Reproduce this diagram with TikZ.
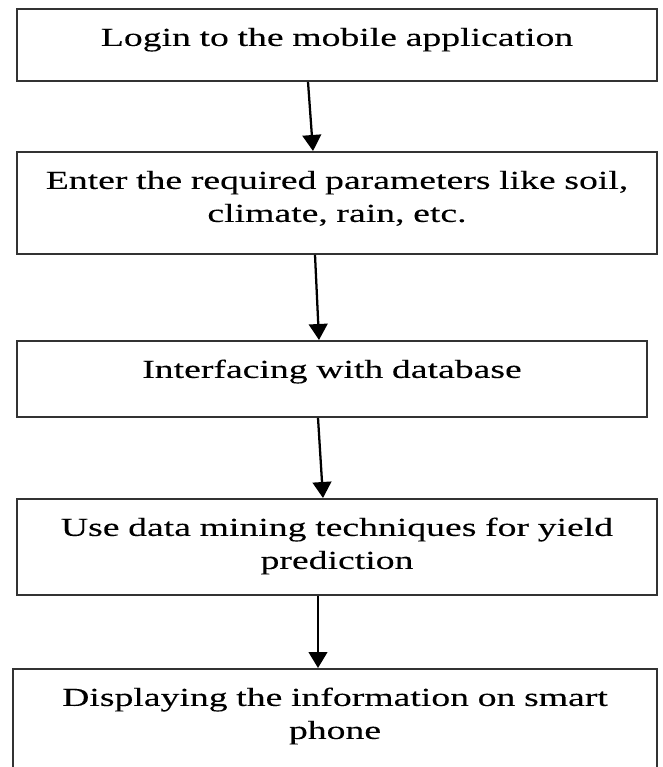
\documentclass[tikz,border=0pt]{standalone}
\usepackage{fontspec}
\setmainfont{Liberation Serif}[FakeStretch=1.45,FakeBold=0.15]
\usetikzlibrary{arrows.meta,calc}

\tikzset{
  flowbox/.style={draw=black!80, line width=1.4pt, anchor=north,
    inner xsep=0pt, inner ysep=0pt, align=center, text height=27.75pt,
    font=\fontsize{19.5}{24.75}\selectfont},
  flowarrow/.style={line width=1.7pt, -{Triangle[length=12pt,width=14pt]}}
}

\begin{document}
\begin{tikzpicture}[x=0.75pt,y=0.75pt,yscale=-1,xscale=1]
\useasboundingbox (0,0) rectangle (663,767);
\clip (0,0) rectangle (663,767);

% Boxes
\node[flowbox, text width=480pt, text depth=26.25pt] (login) at (337,8) {Login to the mobile application};
\node[flowbox, text width=480pt, text depth=48.75pt] (params) at (337,151) {Enter the required parameters like soil,\\climate, rain, etc.};
\node[flowbox, text width=472.5pt, text depth=29.25pt] (database) at (332,340) {Interfacing with database};
\node[flowbox, text width=480pt, text depth=44.25pt] (mining) at (337,498) {Use data mining techniques for yield\\prediction};
\node[flowbox, text width=483pt, text depth=60pt] (display) at (335,668) {Displaying the information on smart\\phone};

% Arrows
\draw[flowarrow] ($(login.south)+(-29,0)$) -- ($(params.north)+(-24,0)$);
\draw[flowarrow] ($(params.south)+(-22,0)$) -- ($(database.north)+(-13,0)$);
\draw[flowarrow] ($(database.south)+(-14,0)$) -- ($(mining.north)+(-14,0)$);
\draw[flowarrow] ($(mining.south)+(-19,0)$) -- ($(display.north)+(-17,0)$);

\end{tikzpicture}
\end{document}
